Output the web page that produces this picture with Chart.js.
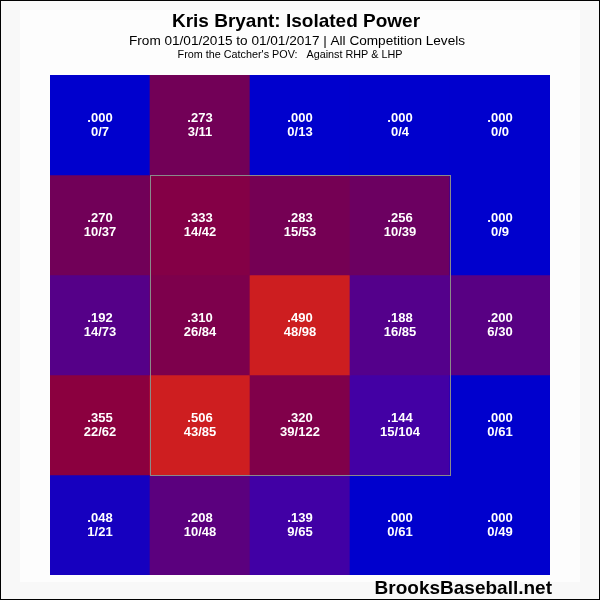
<!DOCTYPE html>
<html>
<head>
<meta charset="utf-8">
<script src="https://cdn.jsdelivr.net/npm/chart.js@4/dist/chart.umd.min.js"></script>
<style>
  html, body { margin: 0; padding: 0; background: #ffffff; }
  #wrap { width: 600px; height: 600px; }
</style>
</head>
<body>
<div id="wrap"><canvas id="c" width="600" height="600"></canvas></div>
<script>
// Zone columns (catcher's view, left to right) and rows (top to bottom)
const columns = ['c1', 'c2', 'c3', 'c4', 'c5'];
const rows = ['r1', 'r2', 'r3', 'r4', 'r5'];

// Isolated power per zone cell, row by row from top
const isoValues = [
  [0.000, 0.273, 0.000, 0.000, 0.000],
  [0.270, 0.333, 0.283, 0.256, 0.000],
  [0.192, 0.310, 0.490, 0.188, 0.200],
  [0.355, 0.506, 0.320, 0.144, 0.000],
  [0.048, 0.208, 0.139, 0.000, 0.000]
];
// Extra bases per cell
const extraBases = [
  [0, 3, 0, 0, 0],
  [10, 14, 15, 10, 0],
  [14, 26, 48, 16, 6],
  [22, 43, 39, 15, 0],
  [1, 10, 9, 0, 0]
];
// At-bats per cell
const atBats = [
  [7, 11, 13, 4, 0],
  [37, 42, 53, 39, 9],
  [73, 84, 98, 85, 30],
  [62, 85, 122, 104, 61],
  [21, 48, 65, 61, 49]
];

// Blue-to-red colour ramp for the ISO value
const colorStops = [
  [0.00, [0, 0, 205]],
  [0.15, [70, 0, 162]],
  [0.27, [113, 0, 88]],
  [0.36, [140, 0, 62]],
  [0.49, [205, 30, 32]],
  [0.60, [215, 30, 30]]
];
function isoColor(v) {
  for (let i = 1; i < colorStops.length; i++) {
    const [v0, c0] = colorStops[i - 1];
    const [v1, c1] = colorStops[i];
    if (v <= v1) {
      const t = Math.max(0, (v - v0) / (v1 - v0));
      const c = c0.map((a, k) => Math.round(a + (c1[k] - a) * t));
      return `rgb(${c[0]},${c[1]},${c[2]})`;
    }
  }
  const c = colorStops[colorStops.length - 1][1];
  return `rgb(${c[0]},${c[1]},${c[2]})`;
}
function fmtIso(v) {
  return v.toFixed(3).replace(/^0/, '');
}

// One floating-bar dataset per row; row 0 sits at the top (y 4..5)
const datasets = rows.map((name, r) => ({
  label: name,
  data: columns.map(() => [4 - r, 5 - r]),
  backgroundColor: isoValues[r].map(isoColor),
  borderWidth: 0,
  barPercentage: 1.0,
  categoryPercentage: 1.0,
  grouped: false
}));

const FONT = '"Liberation Sans", Arial, sans-serif';

const pagePlugin = {
  id: 'page',
  beforeDraw(chart) {
    const ctx = chart.ctx;
    ctx.save();
    ctx.fillStyle = '#f8f8f8';
    ctx.fillRect(0, 0, 600, 600);
    ctx.fillStyle = '#fdfdfd';
    ctx.fillRect(20, 10, 560, 572);
    ctx.restore();
  },
  afterDatasetsDraw(chart) {
    const ctx = chart.ctx;
    ctx.save();
    // Cell labels: ISO on top, extra bases / AB below
    ctx.fillStyle = '#ffffff';
    ctx.textAlign = 'center';
    ctx.textBaseline = 'middle';
    ctx.font = 'bold 13px ' + FONT;
    chart.data.datasets.forEach((ds, r) => {
      const meta = chart.getDatasetMeta(r);
      meta.data.forEach((bar, c) => {
        const cx = bar.x;
        const cy = (bar.y + bar.base) / 2;
        ctx.fillText(fmtIso(isoValues[r][c]), cx, cy - 7);
        ctx.fillText(extraBases[r][c] + '/' + atBats[r][c], cx, cy + 7);
      });
    });
    // Strike zone outline: middle three columns and rows
    const xs = chart.scales.x, ys = chart.scales.y;
    const half = (xs.getPixelForValue(1) - xs.getPixelForValue(0)) / 2;
    const left = xs.getPixelForValue(1) - half;
    const right = xs.getPixelForValue(3) + half;
    const top = ys.getPixelForValue(4);
    const bottom = ys.getPixelForValue(1);
    ctx.strokeStyle = '#8a8a8a';
    ctx.lineWidth = 1;
    ctx.strokeRect(Math.round(left) + 0.5, Math.round(top) + 0.5, Math.round(right - left), Math.round(bottom - top));

    // Titles
    ctx.fillStyle = '#000000';
    ctx.font = 'bold 19px ' + FONT;
    ctx.fillText('Kris Bryant: Isolated Power', 296, 22);
    ctx.font = '13.6px ' + FONT;
    ctx.fillText('From 01/01/2015 to 01/01/2017 | All Competition Levels', 297, 41);
    ctx.font = '10.8px ' + FONT;
    ctx.fillText("From the Catcher's POV:   Against RHP & LHP", 290, 55);
    // Site mark
    ctx.textAlign = 'right';
    ctx.font = 'bold 19px ' + FONT;
    ctx.fillText('BrooksBaseball.net', 552, 589);

    // Frame
    ctx.strokeStyle = '#000000';
    ctx.strokeRect(0.5, 0.5, 599, 599);
    ctx.restore();
  }
};

new Chart(document.getElementById('c'), {
  type: 'bar',
  data: { labels: columns, datasets },
  options: {
    responsive: false,
    animation: false,
    devicePixelRatio: 1,
    layout: { padding: { left: 50, right: 50, top: 75, bottom: 25 } },
    scales: {
      x: { display: false, offset: true, grid: { display: false } },
      y: { display: false, min: 0, max: 5, grid: { display: false } }
    },
    plugins: {
      legend: { display: false },
      tooltip: { enabled: false },
      title: { display: false }
    }
  },
  plugins: [pagePlugin]
});
</script>
</body>
</html>
